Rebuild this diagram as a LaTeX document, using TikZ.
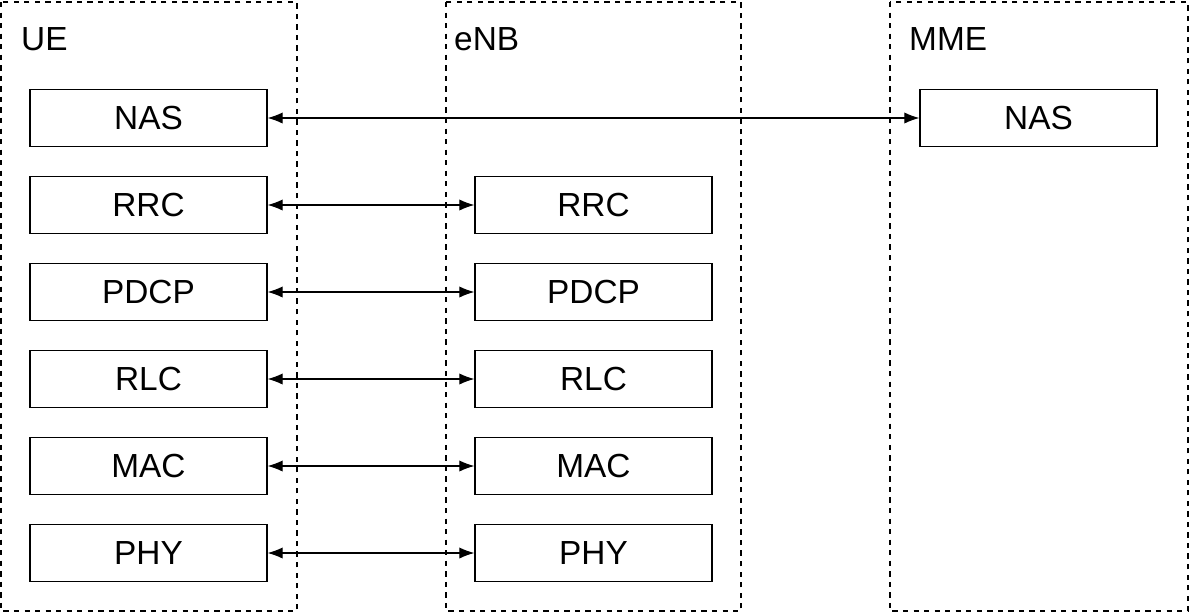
\documentclass[tikz,border=0pt]{standalone}
\usepackage{fontspec}
\setmainfont{Liberation Sans}
\usetikzlibrary{arrows.meta}
\tikzset{
  layer/.style = {draw, thick, minimum width=4.74cm, minimum height=1.14cm, font=\fontsize{19}{21}\selectfont},
  entity/.style = {draw, dashed, thick},
  link/.style = {{Latex[length=3mm]}-{Latex[length=3mm]}, semithick}
}
\begin{document}
\begin{tikzpicture}[x=0.02cm, y=-0.02cm]
\useasboundingbox (0,0) rectangle (1192,613);

% entities
\draw[entity] (1,2) rectangle (297,611);
\draw[entity] (446,2) rectangle (741,611);
\draw[entity] (890,2) rectangle (1188,611);
\node[anchor=west, font=\fontsize{19}{21}\selectfont] (ue) at (15,39) {UE};
\node[anchor=west, font=\fontsize{19}{21}\selectfont] (enb) at (448,39) {eNB};
\node[anchor=west, font=\fontsize{19}{21}\selectfont] (mme) at (903,39) {MME};

% protocol stacks
\foreach \name/\y [count=\i] in {NAS/118, RRC/205, PDCP/292, RLC/379, MAC/466, PHY/553} {
  \node[layer] (u\i) at (148.5,\y) {\name};
}
\foreach \name/\y [count=\i from 2] in {RRC/205, PDCP/292, RLC/379, MAC/466, PHY/553} {
  \node[layer] (e\i) at (593.5,\y) {\name};
}
\node[layer] (m1) at (1038.5,118) {NAS};

% peer links
\draw[link] (u1) -- (m1);
\foreach \i in {2,...,6} {
  \draw[link] (u\i) -- (e\i);
}
\end{tikzpicture}
\end{document}
